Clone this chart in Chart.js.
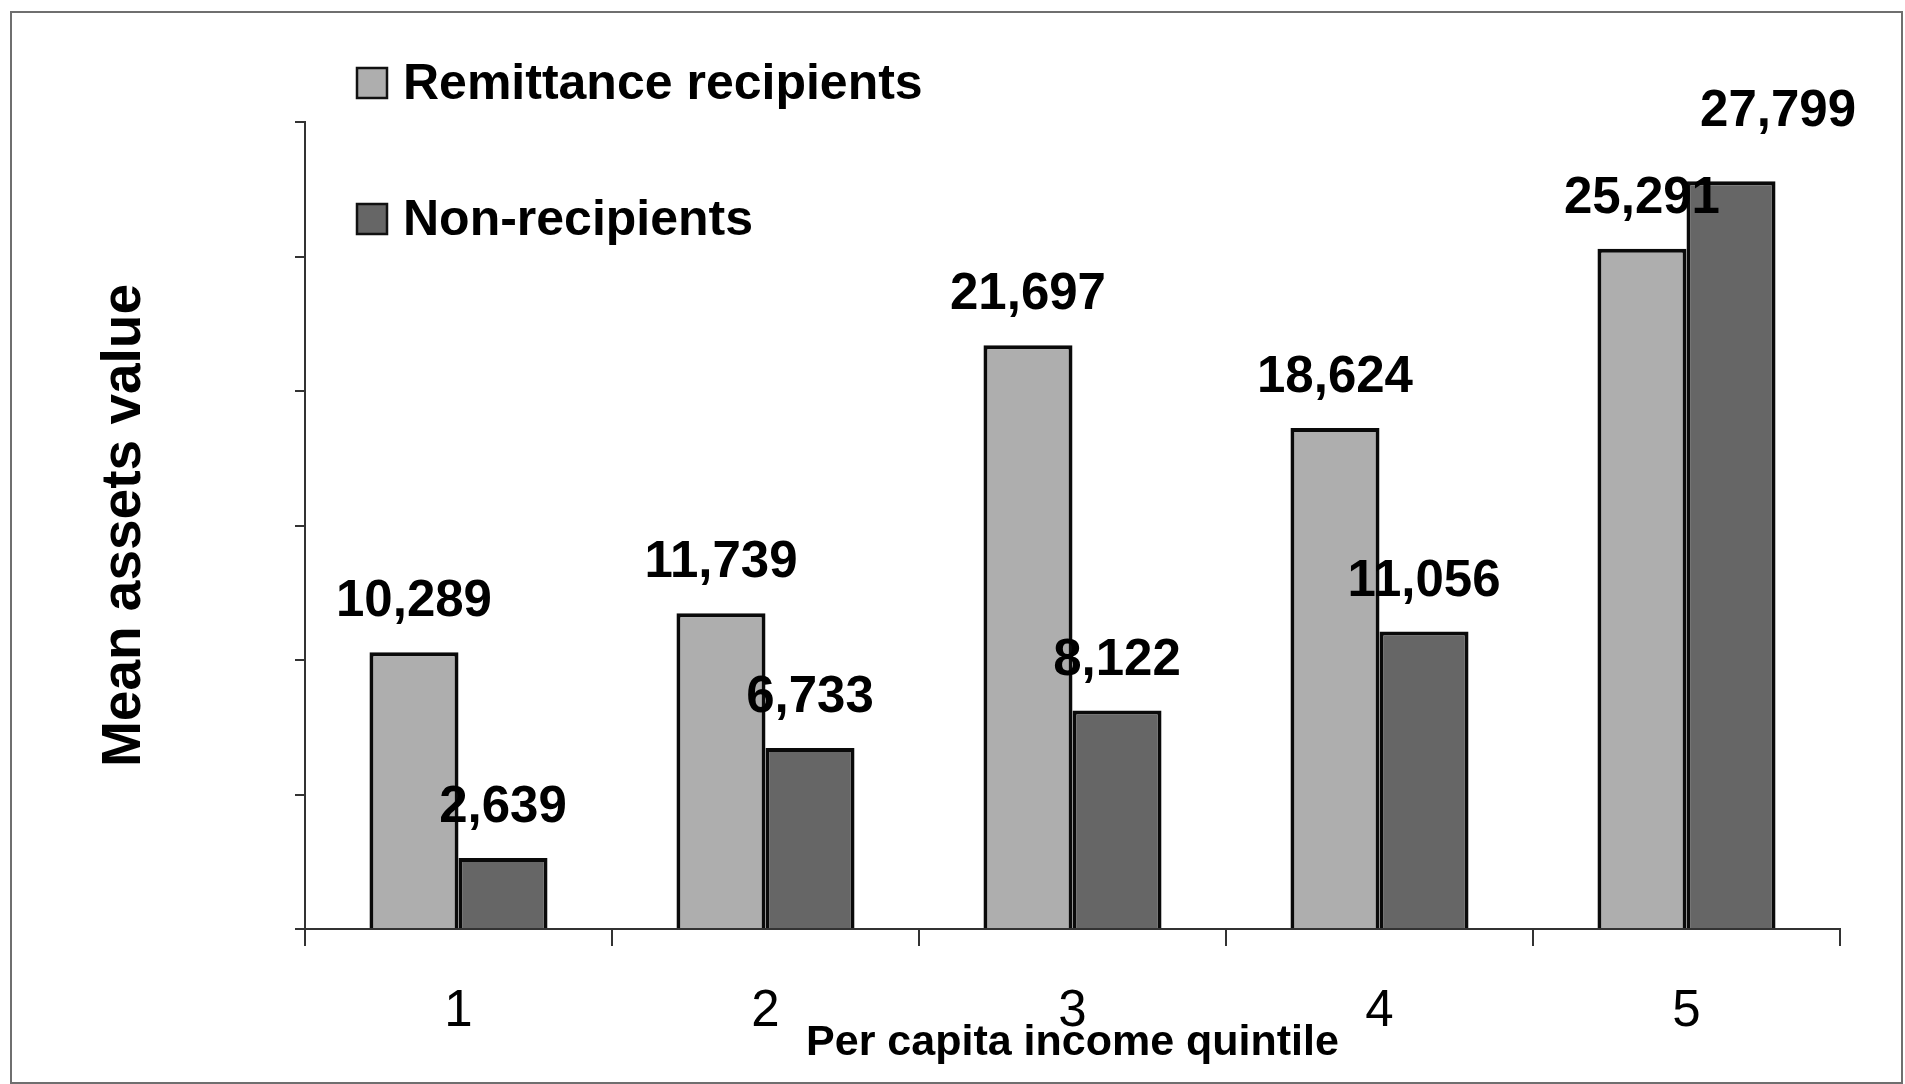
<!DOCTYPE html>
<html>
<head>
<meta charset="utf-8">
<script src="https://cdn.jsdelivr.net/npm/chart.js@4.4.1/dist/chart.umd.min.js"></script>
<style>
  html, body { margin: 0; padding: 0; background: #ffffff; }
  #wrap { position: relative; width: 1905px; height: 1084px; }
</style>
</head>
<body>
<div id="wrap"><canvas id="c" width="1905" height="1084"></canvas></div>
<script>
// ---- data ----
const categories = ['1', '2', '3', '4', '5'];
const seriesNames = ['Remittance recipients', 'Non-recipients'];
const remittanceValues = [10289, 11739, 21697, 18624, 25291];
const nonRecipientValues = [2639, 6733, 8122, 11056, 27799];
const yMin = 0;
const yMax = 30000;
const yStep = 5000;
const xTitle = 'Per capita income quintile';
const yTitle = 'Mean assets value';

const FONT = "'Liberation Sans', Arial, sans-serif";

const framePlugin = {
  id: 'frame',
  beforeDraw(chart) {
    const ctx = chart.ctx;
    ctx.save();
    ctx.strokeStyle = '#6f6f6f';
    ctx.lineWidth = 2;
    ctx.strokeRect(11, 12, 1891, 1071);
    ctx.restore();
  }
};

const legendPlugin = {
  id: 'insideLegend',
  afterDraw(chart, args, opts) {
    const ctx = chart.ctx;
    ctx.save();
    chart.data.datasets.forEach((ds, i) => {
      const y = opts.y + i * opts.gap;
      ctx.fillStyle = ds.backgroundColor;
      ctx.fillRect(opts.x, y - opts.box / 2, opts.box, opts.box);
      ctx.strokeStyle = '#111';
      ctx.lineWidth = 2.5;
      ctx.strokeRect(opts.x, y - opts.box / 2, opts.box, opts.box);
      ctx.fillStyle = '#000';
      ctx.font = 'bold 50px ' + FONT;
      ctx.textBaseline = 'middle';
      ctx.textAlign = 'left';
      ctx.fillText(ds.label, opts.x + opts.box + opts.textGap, y + 2);
    });
    ctx.restore();
  }
};

const valueLabelPlugin = {
  id: 'valueLabels',
  afterDatasetsDraw(chart, args, opts) {
    const ctx = chart.ctx;
    ctx.save();
    ctx.fillStyle = '#000';
    ctx.font = 'bold 51px ' + FONT;
    ctx.textAlign = 'center';
    ctx.textBaseline = 'alphabetic';
    chart.data.datasets.forEach((ds, i) => {
      const meta = chart.getDatasetMeta(i);
      meta.data.forEach((bar, j) => {
        let x = bar.x, y = bar.y - opts.gap;
        (opts.nudges || []).forEach(n => {
          if (n.dataset === i && n.index === j) { x += n.dx; y += n.dy; }
        });
        ctx.fillText(ds.data[j].toLocaleString('en-US'), x, y);
      });
    });
    ctx.restore();
  }
};

new Chart(document.getElementById('c'), {
  type: 'bar',
  data: {
    labels: categories,
    datasets: [
      { label: seriesNames[0], data: remittanceValues, backgroundColor: '#aeaeae', borderColor: '#0a0a0a', borderWidth: 4 },
      { label: seriesNames[1], data: nonRecipientValues, backgroundColor: '#666666', borderColor: '#0a0a0a', borderWidth: 4 }
    ]
  },
  options: {
    responsive: false,
    animation: false,
    devicePixelRatio: 1,
    layout: { padding: { top: 122, right: 65, bottom: 0, left: 0 } },
    datasets: { bar: { categoryPercentage: 0.58, barPercentage: 1.0 } },
    plugins: {
      legend: { display: false },
      tooltip: { enabled: false },
      insideLegend: { x: 357, y: 83, gap: 136, box: 30, textGap: 16 },
      valueLabels: { gap: 36, nudges: [{ dataset: 1, index: 4, dx: 47, dy: -19 }] }
    },
    scales: {
      x: {
        grid: { display: true, drawOnChartArea: false, drawTicks: true, tickLength: 17, color: '#333', lineWidth: 2, offset: true },
        border: { display: true, color: '#333', width: 2 },
        ticks: { color: '#000', font: { family: FONT, size: 51, weight: 'normal' }, padding: 35 },
        title: { display: true, text: xTitle, color: '#000', font: { family: FONT, size: 43, weight: 'bold' }, padding: { top: 0, bottom: 15 } },
        afterFit(scale) { scale.height = 155; }
      },
      y: {
        min: yMin, max: yMax,
        grid: { display: true, drawOnChartArea: false, drawTicks: true, tickLength: 10, color: '#333', lineWidth: 2 },
        border: { display: true, color: '#333', width: 2 },
        ticks: { stepSize: yStep, callback: () => '', padding: 0 },
        title: { display: true, text: yTitle, color: '#000', font: { family: FONT, size: 55, weight: 'bold' }, padding: { top: 92, bottom: 0 } },
        afterFit(scale) { scale.width = 305; }
      }
    }
  },
  plugins: [framePlugin, legendPlugin, valueLabelPlugin]
});
</script>
</body>
</html>
